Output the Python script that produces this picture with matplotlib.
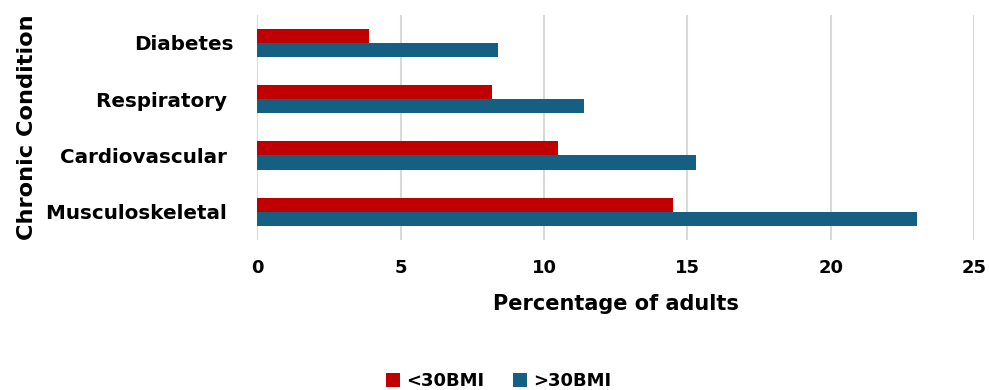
import numpy as np
import matplotlib.pyplot as plt

plt.rcParams['font.family'] = ['DejaVu Sans']
plt.rcParams['font.weight'] = 'bold'

# Share of adults with each chronic condition, by BMI group
conditions = ['Musculoskeletal ', 'Cardiovascular ', 'Respiratory ', 'Diabetes']
under_30 = [14.5, 10.5, 8.2, 3.9]
over_30 = [23.0, 15.3, 11.4, 8.4]
series_labels = ['<30BMI', '>30BMI']
colors = ['#C00000', '#156082']

fig = plt.figure(figsize=(9.89, 3.9), dpi=100)
ax = fig.add_axes([0.26, 0.385, 0.725, 0.577])

y = np.arange(len(conditions))
h = 0.25
ax.barh(y + h / 2, under_30, height=h, color=colors[0], label=series_labels[0], zorder=3)
ax.barh(y - h / 2, over_30, height=h, color=colors[1], label=series_labels[1], zorder=3)

ax.set_xlim(0, 25)
ax.set_ylim(-0.5, len(conditions) - 0.5)
ax.set_xticks(np.arange(0, 26, 5))
ax.set_yticks(y)
ax.set_yticklabels(conditions)
ax.tick_params(axis='both', length=0)
ax.tick_params(axis='x', pad=14, labelsize=13)
ax.tick_params(axis='y', pad=17, labelsize=14.3)

ax.grid(axis='x', color='#d9d9d9', linewidth=1.5, zorder=0)
for s in ax.spines.values():
    s.set_visible(False)

ax.set_xlabel('Percentage of adults', fontsize=15, fontweight='bold', labelpad=12)
ax.set_ylabel('Chronic Condition', fontsize=16.2, fontweight='bold')
ax.yaxis.set_label_coords(-0.307, 0.5)

fig.legend(loc='center', bbox_to_anchor=(0.504, 0.022), ncol=2, frameon=False,
           fontsize=13, handlelength=0.8, handleheight=0.8, handletextpad=0.3,
           columnspacing=1.6)

fig.savefig('out.png', dpi=100)
